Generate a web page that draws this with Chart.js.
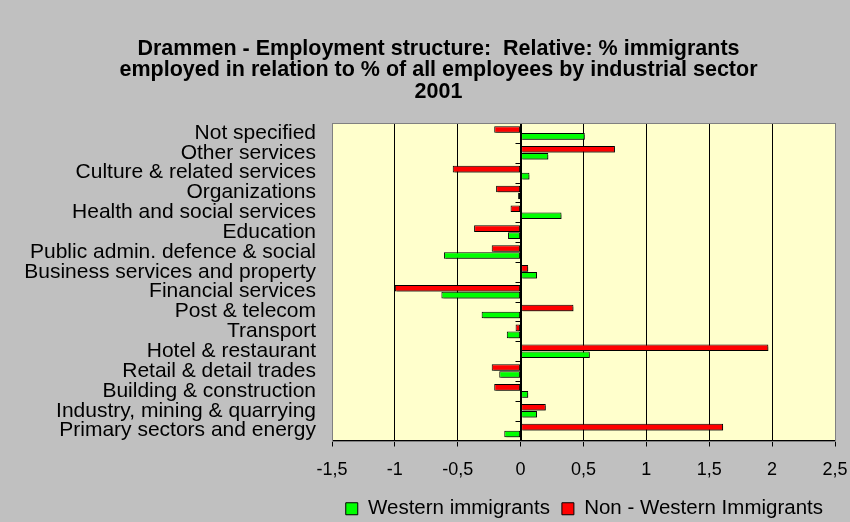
<!DOCTYPE html>
<html>
<head>
<meta charset="utf-8">
<script src="https://cdn.jsdelivr.net/npm/chart.js@4"></script>
<style>
  html, body { margin: 0; padding: 0; background: #c0c0c0; }
  #wrap { width: 850px; height: 522px; }
</style>
</head>
<body>
<div id="wrap"><canvas id="chart" width="850" height="522"></canvas></div>
<script>
// Kategorier (øverst til nederst)
var sectors = ['Not specified', 'Other services', 'Culture & related services', 'Organizations',
    'Health and social services', 'Education', 'Public admin. defence & social',
    'Business services and property', 'Financial services', 'Post & telecom', 'Transport',
    'Hotel & restaurant', 'Retail & detail trades', 'Building & construction',
    'Industry, mining & quarrying', 'Primary sectors and energy'];
var westernValues = [0.51, 0.22, 0.07, -0.02, 0.325, -0.10, -0.61, 0.13, -0.63, -0.31, -0.11,
    0.55, -0.17, 0.06, 0.13, -0.13];
var nonWesternValues = [-0.21, 0.75, -0.54, -0.195, -0.08, -0.37, -0.23, 0.06, -1.0, 0.42, -0.04,
    1.97, -0.23, -0.21, 0.20, 1.61];
var titleLines = ['Drammen - Employment structure:  Relative: % immigrants',
    'employed in relation to % of all employees by industrial sector', '2001'];

var FONT = "'Liberation Sans', Arial, sans-serif";

// Bakgrunn, ramme, skygge og små merker ved nullinjen
var plotArea = {
    id: 'plotArea',
    afterLayout: function(chart) {
        // tittel litt mot høyre, forklaring litt ned
        chart.titleBlock.left += 22;
        chart.legend.top += 7;
        chart.legend.bottom += 7;
    },
    beforeDraw: function(chart) {
        var a = chart.chartArea, c = chart.ctx;
        c.save();
        c.fillStyle = '#ffffcc';
        c.fillRect(a.left, a.top, a.right - a.left, a.bottom - a.top);
        c.restore();
    },
    beforeDatasetsDraw: function(chart) {
        var c = chart.ctx;
        c.save();
        c.shadowColor = 'rgba(0,0,0,0.4)';
        c.shadowOffsetX = 2;
        c.shadowOffsetY = 2;
        c.shadowBlur = 0;
    },
    afterDatasetsDraw: function(chart) {
        var a = chart.chartArea, c = chart.ctx;
        c.restore();
        var x0 = Math.round(chart.scales.x.getPixelForValue(0)) + 0.5;
        var n = sectors.length, step = (a.bottom - a.top) / n;
        c.save();
        c.strokeStyle = '#000';
        c.lineWidth = 1;
        c.beginPath();
        c.moveTo(x0, a.top);
        c.lineTo(x0, a.bottom);
        for (var i = 0; i < n; i++) {
            var y = Math.round(a.top + i * step) + 0.5;
            c.moveTo(x0 - 6, y);
            c.lineTo(x0, y);
        }
        c.stroke();
        c.strokeStyle = '#808080';
        c.strokeRect(Math.round(a.left) + 0.5, Math.round(a.top) + 0.5,
            Math.round(a.right - a.left), Math.round(a.bottom - a.top));
        c.restore();
    }
};

new Chart(document.getElementById('chart').getContext('2d'), {
    type: 'bar',
    data: {
        labels: sectors,
        datasets: [{
            label: 'Non - Western Immigrants',
            data: nonWesternValues,
            backgroundColor: '#ff0000',
            borderColor: '#000',
            borderWidth: 1,
            borderSkipped: false
        }, {
            label: 'Western immigrants',
            data: westernValues,
            backgroundColor: '#00ff00',
            borderColor: '#000',
            borderWidth: 1,
            borderSkipped: false
        }]
    },
    options: {
        indexAxis: 'y',
        responsive: false,
        animation: false,
        layout: { padding: { left: 20, right: 15, top: 0, bottom: 0 } },
        categoryPercentage: 0.7,
        barPercentage: 0.95,
        plugins: {
            title: {
                display: true,
                text: titleLines,
                color: '#000',
                font: { family: FONT, size: 21.5, weight: 'bold', lineHeight: 1.0 },
                padding: { top: 38, bottom: 20.5 }
            },
            legend: {
                position: 'bottom',
                align: 'end',
                reverse: true,
                labels: {
                    color: '#000',
                    font: { family: FONT, size: 20.5 },
                    boxWidth: 12,
                    boxHeight: 12,
                    padding: 12
                }
            },
            tooltip: { enabled: false }
        },
        scales: {
            x: {
                min: -1.5,
                max: 2.5,
                afterFit: function(scale) {
                    scale.height = 39;
                    scale.paddingLeft = 0;
                    scale.paddingRight = 0;
                },
                ticks: {
                    stepSize: 0.5,
                    color: '#000',
                    font: { family: FONT, size: 18 },
                    padding: 13,
                    callback: function(v) { return String(v).replace('.', ','); }
                },
                grid: {
                    color: function(ctx) {
                        return (ctx.index === 0 || ctx.index === 8) ? '#808080' : '#000';
                    },
                    tickColor: '#000',
                    tickLength: 6
                },
                border: { color: '#000' }
            },
            y: {
                afterFit: function(scale) { scale.width = 312; },
                ticks: {
                    color: '#000',
                    font: { family: FONT, size: 21 },
                    padding: 16,
                    autoSkip: false
                },
                grid: { display: false, drawTicks: false },
                border: { display: false }
            }
        }
    },
    plugins: [plotArea]
});
</script>
</body>
</html>
